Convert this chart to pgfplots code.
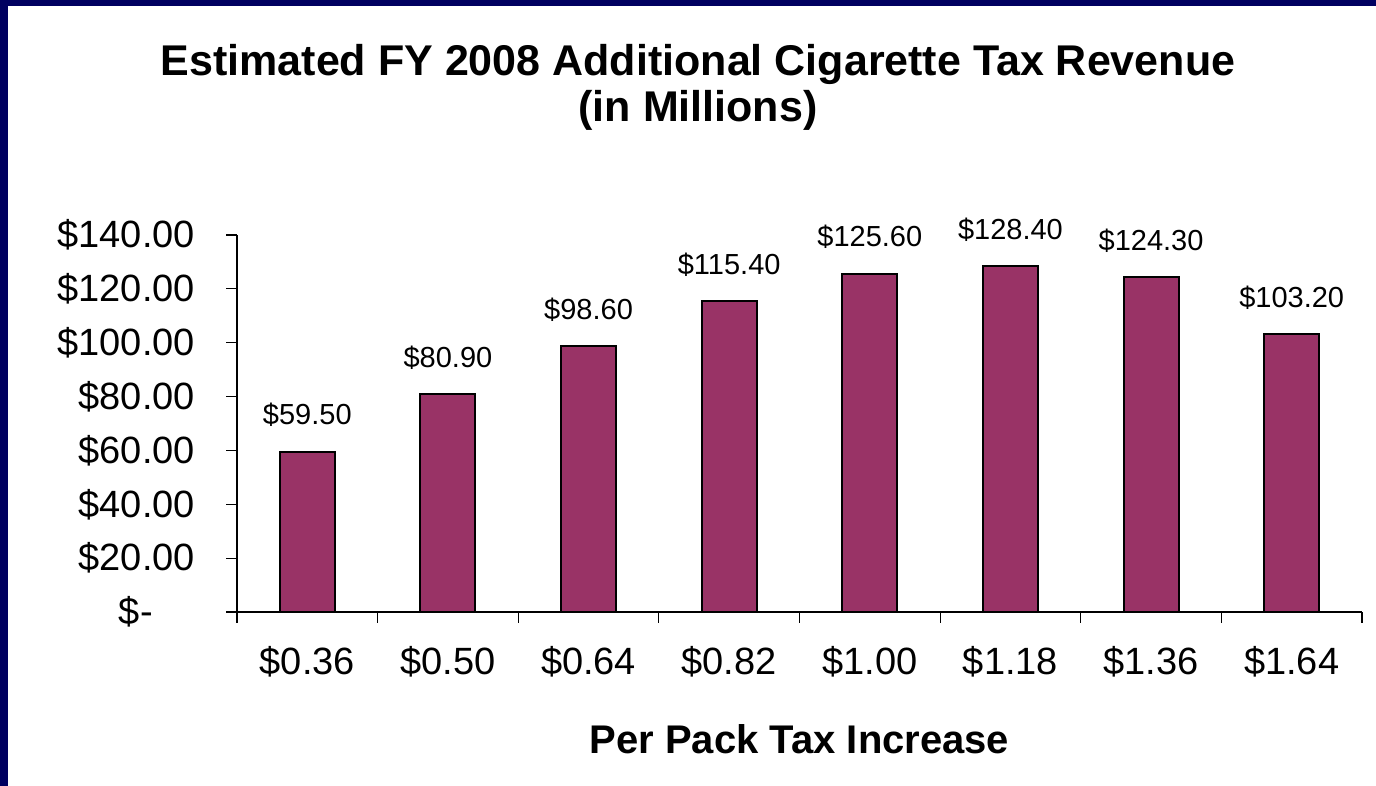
\documentclass[border=0pt]{standalone}
\usepackage{pgfplots}
\pgfplotsset{compat=1.18}
\usepackage{fontspec}
\setmainfont{Liberation Sans}
\definecolor{barcol}{RGB}{153,51,102}
\definecolor{navyframe}{RGB}{0,0,96}
\begin{document}
\begin{tikzpicture}
\fill[white] (0,0) rectangle (688pt,393pt);
\fill[navyframe] (0,0) rectangle (4.2pt,393pt);
\fill[navyframe] (0,390pt) rectangle (688pt,393pt);
\node[anchor=base, inner sep=0pt, font=\bfseries\fontsize{21.5}{25}\selectfont] at (349pt,355.2pt) {Estimated FY 2008 Additional Cigarette Tax Revenue};
\node[anchor=base, inner sep=0pt, font=\bfseries\fontsize{21.5}{25}\selectfont] at (349pt,332.2pt) {(in Millions)};
\begin{axis}[
  at={(118.5pt,87pt)}, anchor=south west,
  scale only axis, width=562.5pt, height=188.5pt,
  xmin=-0.5, xmax=7.5, ymin=0, ymax=140,
  axis x line*=bottom, axis y line*=left,
  axis line style={black, line width=0.6pt},
  tick style={black, line width=0.6pt},
  tick align=outside, major tick length=5.5pt,
  ytick={0,20,40,60,80,100,120,140},
  yticklabels={\$-\phantom{00}, \$20.00, \$40.00, \$60.00, \$80.00, \$100.00, \$120.00, \$140.00},
  yticklabel style={anchor=east, xshift=-12pt, font=\fontsize{19}{23}\selectfont},
  xtick={-0.5,0.5,1.5,2.5,3.5,4.5,5.5,6.5,7.5}, xticklabels={,,,,,,,,},
  extra x ticks={0,1,2,3,4,5,6,7},
  extra x tick labels={\$0.36,\$0.50,\$0.64,\$0.82,\$1.00,\$1.18,\$1.36,\$1.64},
  extra x tick style={tick style={draw=none}},
  xticklabel style={anchor=base, yshift=-26pt, font=\fontsize{19}{23}\selectfont},
  xlabel={Per Pack Tax Increase},
  xlabel style={at={(axis description cs:0.5,0)}, anchor=base, yshift=-71pt, inner sep=0pt, font=\bfseries\fontsize{20}{24}\selectfont},
  ybar, bar width=27.5pt,
  clip=false,
  point meta=explicit symbolic,
  nodes near coords,
  nodes near coords style={anchor=base, yshift=13.5pt, font=\fontsize{14.5}{17}\selectfont, text=black},
]
\addplot[fill=barcol, draw=black, line width=1pt] coordinates {
  (0,59.5) [\$59.50]
  (1,80.9) [\$80.90]
  (2,98.6) [\$98.60]
  (3,115.4) [\$115.40]
  (4,125.6) [\$125.60]
  (5,128.4) [\$128.40]
  (6,124.3) [\$124.30]
  (7,103.2) [\$103.20]
};
\end{axis}
\pgfresetboundingbox
\useasboundingbox (0,0) rectangle (688pt,393pt);
\end{tikzpicture}
\end{document}
